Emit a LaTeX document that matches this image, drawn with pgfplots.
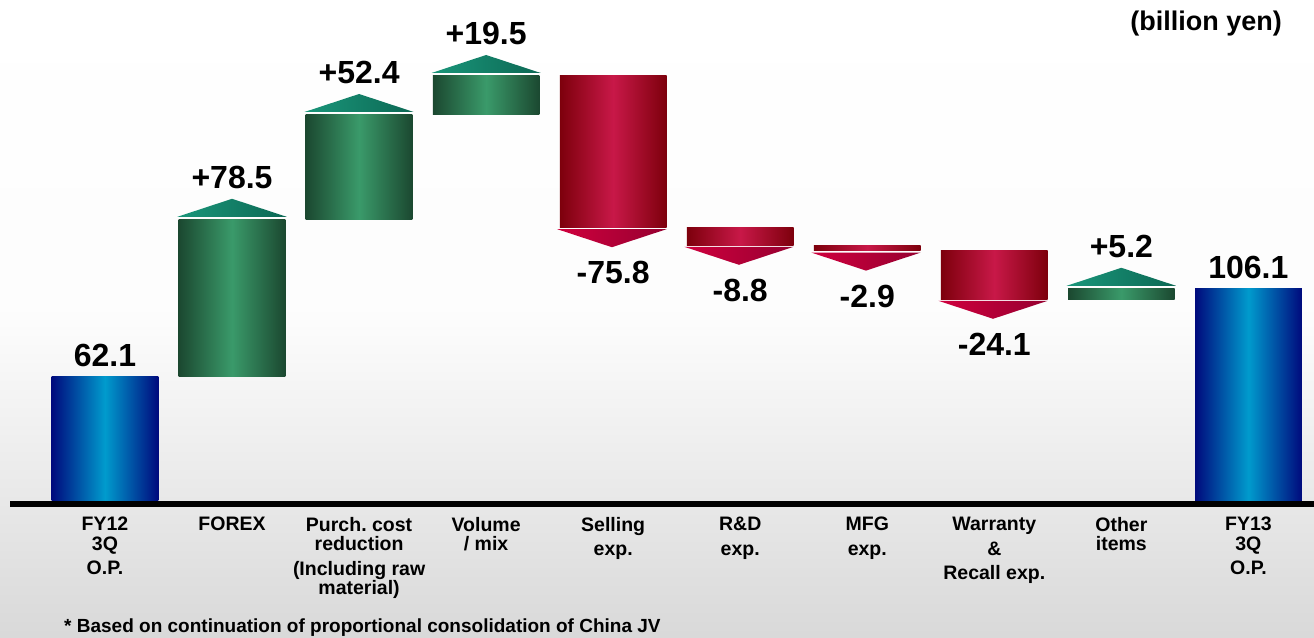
\documentclass[border=0pt]{standalone}
\usepackage{pgfplots}
\pgfplotsset{compat=1.18}
\usepackage{fontspec}
\setmainfont{Liberation Sans}
\frenchspacing

\definecolor{bluedark}{RGB}{0,10,125}
\definecolor{bluelight}{RGB}{0,155,205}
\definecolor{greendark}{RGB}{27,72,48}
\definecolor{greenlight}{RGB}{58,154,106}
\definecolor{reddark}{RGB}{125,0,12}
\definecolor{redlight}{RGB}{200,24,72}
\definecolor{gtril}{RGB}{26,150,122}
\definecolor{gtrir}{RGB}{12,104,84}
\definecolor{rtril}{RGB}{208,0,62}
\definecolor{rtrir}{RGB}{150,0,48}

\begin{document}
\begin{tikzpicture}
\useasboundingbox (0pt,0pt) rectangle (1314pt,637pt);
\shade[top color=white, bottom color=black!15, middle color=black!1] (0pt,0pt) rectangle (1314pt,637pt);
\begin{axis}[at={(10pt,136pt)}, anchor=south west,
  width=1304pt, height=501pt, scale only axis,
  xmin=-0.7477, xmax=9.516, ymin=0, ymax=250.5, clip=false,
  axis line style={draw=none}, tick style={draw=none}, ytick=\empty,
  xtick={0,...,9},
  xticklabels={{FY12\\[-5pt]3Q\\O.P.}, FOREX, {Purch.\ cost\\[-5pt]reduction\\(Including raw\\[-5pt]material)}, {Volume\\[-5pt]/ mix}, {Selling\\exp.}, {R\&D\\exp.}, {MFG\\exp.}, {Warranty\\\&\\Recall exp.}, {Other\\[-5pt]items}, {FY13\\[-5pt]3Q\\O.P.}},
  xticklabel style={font=\fontsize{19.5}{24.5}\selectfont\bfseries, align=center, anchor=north, inner sep=0pt, yshift=-16pt},
  bluebar/.style={draw=none, left color=bluedark, right color=bluedark, middle color=bluelight},
  greenbar/.style={draw=none, left color=greendark, right color=greendark, middle color=greenlight},
  redbar/.style={draw=none, left color=reddark, right color=reddark, middle color=redlight},
  gtri/.style={draw=none, left color=gtril, right color=gtrir},
  rtri/.style={draw=none, left color=rtril, right color=rtrir},
]
% start and end bars
\addplot[bluebar] coordinates {(-0.42,0) (0.42,0) (0.42,62.1) (-0.42,62.1)} -- cycle;
\addplot[bluebar] coordinates {(8.58,0) (9.42,0) (9.42,106.1) (8.58,106.1)} -- cycle;
% increases
\addplot[greenbar] coordinates {(0.58,62.1) (1.42,62.1) (1.42,140.6) (0.58,140.6)} -- cycle;
\addplot[greenbar] coordinates {(1.58,140.6) (2.42,140.6) (2.42,193.0) (1.58,193.0)} -- cycle;
\addplot[greenbar] coordinates {(2.58,193.0) (3.42,193.0) (3.42,212.5) (2.58,212.5)} -- cycle;
\addplot[greenbar] coordinates {(7.58,100.9) (8.42,100.9) (8.42,106.1) (7.58,106.1)} -- cycle;
% decreases
\addplot[redbar] coordinates {(3.58,136.7) (4.42,136.7) (4.42,212.5) (3.58,212.5)} -- cycle;
\addplot[redbar] coordinates {(4.58,127.9) (5.42,127.9) (5.42,136.7) (4.58,136.7)} -- cycle;
\addplot[redbar] coordinates {(5.58,125.0) (6.42,125.0) (6.42,127.9) (5.58,127.9)} -- cycle;
\addplot[redbar] coordinates {(6.58,100.9) (7.42,100.9) (7.42,125.0) (6.58,125.0)} -- cycle;
% up arrows
\addplot[gtri] coordinates {(0.57,142.1) (1.43,142.1) (1,151.1)} -- cycle;
\addplot[gtri] coordinates {(1.57,194.5) (2.43,194.5) (2,203.5)} -- cycle;
\addplot[gtri] coordinates {(2.57,214.0) (3.43,214.0) (3,223.0)} -- cycle;
\addplot[gtri] coordinates {(7.57,107.6) (8.43,107.6) (8,116.6)} -- cycle;
% down arrows
\addplot[rtri] coordinates {(3.56,135.9) (4.42,135.9) (3.99,126.9)} -- cycle;
\addplot[rtri] coordinates {(4.56,127.1) (5.42,127.1) (4.99,118.1)} -- cycle;
\addplot[rtri] coordinates {(5.56,124.2) (6.42,124.2) (5.99,115.2)} -- cycle;
\addplot[rtri] coordinates {(6.56,100.1) (7.42,100.1) (6.99,91.1)} -- cycle;
% labels above
\addplot[draw=none, mark=none, nodes near coords, point meta=explicit symbolic,
  nodes near coords align={above=10pt},
  every node near coord/.append style={font=\fontsize{32}{34}\selectfont\bfseries, inner sep=0pt, text=black}]
  coordinates {(0,62.1) [62.1] (1,151.1) [+78.5] (2,203.5) [+52.4] (3,223.0) [+19.5] (8,116.6) [+5.2] (9,106.1) [106.1]};
% labels below
\addplot[draw=none, mark=none, nodes near coords, point meta=explicit symbolic,
  nodes near coords align={below=14pt},
  every node near coord/.append style={font=\fontsize{32}{34}\selectfont\bfseries, inner sep=0pt, text=black}]
  coordinates {(4,126.9) [-75.8] (5,118.1) [-8.8] (6,115.2) [-2.9] (7,91.1) [-24.1]};
\draw[line width=6pt] (axis cs:-0.7477,-1.5) -- (axis cs:9.516,-1.5);
\end{axis}
\node[anchor=base west, inner sep=0pt, font=\fontsize{19}{22}\selectfont\bfseries] at (64pt,5pt) {* Based on continuation of proportional consolidation of China JV};
\node[anchor=base east, inner sep=0pt, font=\fontsize{27}{30}\selectfont\bfseries] at (1282pt,606pt) {(billion yen)};
\end{tikzpicture}
\end{document}
